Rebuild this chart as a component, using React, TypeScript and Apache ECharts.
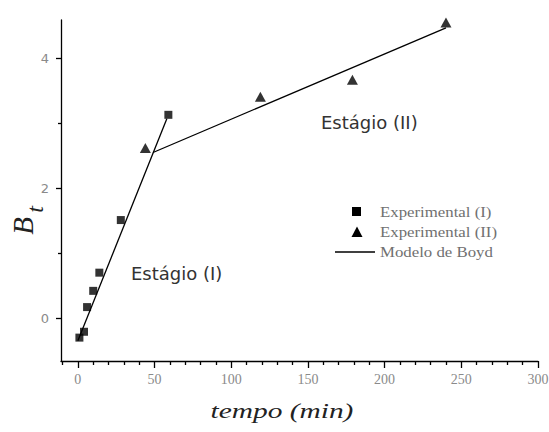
import React, { useEffect, useRef } from "react";
import * as echarts from "echarts";

// Experimental (I) – squares
const expIX = [1, 4, 6, 10, 14, 28, 59];
const expIY = [-0.3, -0.21, 0.17, 0.42, 0.7, 1.51, 3.13];
// Experimental (II) – triangles
const expIIX = [44, 119, 179, 240];
const expIIY = [2.62, 3.41, 3.67, 4.55];
// Modelo de Boyd – two straight segments
const boydIX = [0, 58];
const boydIY = [-0.35, 3.07];
const boydIIX = [49, 240];
const boydIIY = [2.55, 4.47];

const xMajor = [0, 50, 100, 150, 200, 250, 300];
const xMinor = [-10, 10, 20, 30, 40, 60, 70, 80, 90, 110, 120, 130, 140, 160, 170, 180, 190, 210, 220, 230, 240, 260, 270, 280, 290];
const yMajor = [0, 2, 4];
const yMinor = [1, 3];

const X_MIN = -11;
const X_MAX = 300;
const Y_MIN = -0.66;
const Y_MAX = 4.59;

const zip = (xs: number[], ys: number[]) => xs.map((x, i) => [x, ys[i]]);

export default function App() {
  const ref = useRef<HTMLDivElement>(null);
  useEffect(() => {
    if (!ref.current) return;
    const chart = echarts.init(ref.current, null, { renderer: "svg" });
    const grid = { left: 61, right: 11, top: 20, bottom: 71, containLabel: false, outerBoundsMode: "none" };
    const axisLineStyle = { color: "#000", width: 1.3 };
    chart.setOption({
      animation: false,
      backgroundColor: "#fff",
      grid,
      xAxis: [
        {
          type: "value",
          min: X_MIN,
          max: X_MAX,
          splitLine: { show: false },
          axisLine: { show: true, onZero: false, lineStyle: axisLineStyle },
          axisTick: { show: true, customValues: xMajor, length: 7, lineStyle: { color: "#000", width: 1.3 } },
          axisLabel: {
            show: true,
            customValues: xMajor,
            margin: 11,
            color: "#8a8a8a",
            fontFamily: "Liberation Serif",
            fontSize: 14,
          },
        },
        {
          type: "value",
          min: X_MIN,
          max: X_MAX,
          position: "bottom",
          splitLine: { show: false },
          axisLine: { show: false, onZero: false },
          axisTick: { show: true, customValues: xMinor, length: 4, lineStyle: { color: "#000", width: 1.3 } },
          axisLabel: { show: false },
        },
      ],
      yAxis: [
        {
          type: "value",
          min: Y_MIN,
          max: Y_MAX,
          splitLine: { show: false },
          axisLine: { show: true, onZero: false, lineStyle: axisLineStyle },
          axisTick: { show: true, customValues: yMajor, length: 5, lineStyle: { color: "#000", width: 1.3 } },
          axisLabel: {
            show: true,
            customValues: yMajor,
            margin: 12,
            color: "#8a8a8a",
            fontFamily: "DejaVu Sans",
            fontSize: 13,
          },
        },
        {
          type: "value",
          min: Y_MIN,
          max: Y_MAX,
          position: "left",
          splitLine: { show: false },
          axisLine: { show: false, onZero: false },
          axisTick: { show: true, customValues: yMinor, length: 3, lineStyle: { color: "#000", width: 1.3 } },
          axisLabel: { show: false },
        },
      ],
      series: [
        {
          name: "Modelo de Boyd",
          type: "line",
          data: zip(boydIX, boydIY),
          showSymbol: false,
          symbol: "none",
          lineStyle: { color: "#000", width: 1.3 },
          z: 2,
        },
        {
          name: "Modelo de Boyd",
          type: "line",
          data: zip(boydIIX, boydIIY),
          showSymbol: false,
          symbol: "none",
          lineStyle: { color: "#000", width: 1.3 },
          z: 2,
        },
        {
          name: "Experimental (I)",
          type: "scatter",
          data: zip(expIX, expIY),
          symbol: "rect",
          symbolSize: 8,
          itemStyle: { color: "#000" },
          z: 3,
        },
        {
          name: "Experimental (II)",
          type: "scatter",
          data: zip(expIIX, expIIY),
          symbol: "triangle",
          symbolSize: [11, 10],
          itemStyle: { color: "#000" },
          z: 3,
        },
      ],
      graphic: [
        // legend
        { type: "rect", shape: { x: 352, y: 207, width: 9, height: 9 }, style: { fill: "#000" } },
        {
          type: "polygon",
          shape: { points: [[357, 226.5], [351.5, 237], [362.5, 237]] },
          style: { fill: "#000" },
        },
        { type: "line", shape: { x1: 335, y1: 252, x2: 375, y2: 252 }, style: { stroke: "#000", lineWidth: 1.3 } },
        {
          type: "text",
          x: 380,
          y: 212,
          scaleX: 1.2,
          style: { text: "Experimental (I)", fill: "#707070", font: "14px 'Liberation Serif'", textVerticalAlign: "middle" },
        },
        {
          type: "text",
          x: 380,
          y: 232,
          scaleX: 1.2,
          style: { text: "Experimental (II)", fill: "#707070", font: "14px 'Liberation Serif'", textVerticalAlign: "middle" },
        },
        {
          type: "text",
          x: 380,
          y: 252,
          scaleX: 1.2,
          style: { text: "Modelo de Boyd", fill: "#707070", font: "14px 'Liberation Serif'", textVerticalAlign: "middle" },
        },
        // stage annotations
        {
          type: "text",
          x: 131,
          y: 273,
          style: { text: "Estágio (I)", fill: "#333", font: "18px 'DejaVu Sans'", textVerticalAlign: "middle" },
        },
        {
          type: "text",
          x: 321,
          y: 122,
          style: { text: "Estágio (II)", fill: "#333", font: "18px 'DejaVu Sans'", textVerticalAlign: "middle" },
        },
        // axis titles
        {
          type: "text",
          x: 282,
          y: 411,
          scaleX: 1.4,
          style: {
            text: "tempo (min)",
            fill: "#222",
            font: "italic 21px 'Liberation Serif'",
            textAlign: "center",
            textVerticalAlign: "middle",
          },
        },
        {
          type: "text",
          x: 22.5,
          y: 226,
          rotation: Math.PI / 2,
          style: {
            text: "B",
            fill: "#222",
            font: "italic 29px 'Liberation Serif'",
            textAlign: "center",
            textVerticalAlign: "middle",
          },
        },
        {
          type: "text",
          x: 35,
          y: 209.5,
          rotation: Math.PI / 2,
          style: {
            text: "t",
            fill: "#222",
            font: "italic 24px 'Liberation Serif'",
            textAlign: "center",
            textVerticalAlign: "middle",
          },
        },
      ],
    });
    return () => chart.dispose();
  }, []);
  return (
    <div
      ref={ref}
      style={{ position: "absolute", left: 0, top: 0, width: 549, height: 432, background: "#fff" }}
    />
  );
}
